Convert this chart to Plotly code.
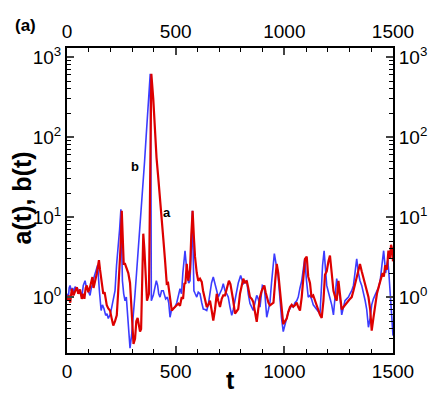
import numpy as np
import plotly.graph_objects as go

# a(t) - red curve, (t, value)
a_points = [
    (0, 0.9), (8, 1.05), (15, 0.85), (22, 1.27), (30, 1.05), (38, 1.2), (45, 1.33), (52, 1.1),
    (60, 1.25), (68, 0.95), (75, 1.1), (80, 0.95), (86, 1.3), (91, 1.4), (98, 1.15), (105, 1.3),
    (111, 1.6), (117, 1.78), (122, 1.3), (128, 1.5), (137, 1.96), (142, 2.4), (147, 2.9), (152, 2.2),
    (157, 1.78), (162, 1.3), (167, 1.1), (173, 1.15), (178, 0.95), (183, 0.79), (190, 0.72), (198, 0.68),
    (205, 0.55), (213, 0.44), (221, 0.5), (229, 0.59), (235, 1.1), (240, 1.96), (246, 4.0), (252, 12.0),
    (256, 6.0), (261, 2.6), (267, 2.6), (274, 2.3), (282, 2.0), (290, 1.5), (295, 0.75), (300, 0.4),
    (306, 0.26), (313, 0.3), (319, 0.5), (325, 0.55), (331, 0.42), (336, 0.37), (341, 0.4), (347, 2.5),
    (351, 6.2), (356, 4.0), (362, 1.5), (368, 0.9), (377, 1.1), (384, 30), (388, 620), (397, 300),
    (405, 110), (412, 55), (420, 31), (428, 18), (436, 10), (444, 5), (451, 2.9), (459, 1.47),
    (465, 1.5), (469, 1.27), (476, 0.9), (482, 0.68), (490, 0.72), (497, 0.75), (505, 0.8), (512, 0.83),
    (520, 0.78), (528, 1.0), (534, 0.95), (540, 1.47), (545, 1.5), (551, 2.6), (558, 1.6), (566, 2.2),
    (572, 6), (578, 12), (584, 5.5), (589, 3.2), (597, 2.0), (604, 1.6), (612, 1.7), (620, 1.55),
    (626, 1.2), (632, 1.0), (637, 0.85), (643, 0.75), (650, 0.8), (658, 0.9), (665, 0.7), (673, 0.51),
    (681, 0.7), (689, 1.1), (696, 0.9), (704, 0.75), (712, 0.95), (719, 1.05), (727, 1.05), (736, 1.3),
    (745, 1.6), (752, 1.45), (758, 1.2), (765, 0.9), (773, 0.62), (780, 0.66), (788, 0.71), (796, 1.1),
    (803, 1.4), (811, 1.7), (819, 1.5), (827, 1.6), (834, 1.3), (842, 1.0), (850, 0.95), (857, 0.87),
    (865, 0.65), (873, 0.49), (880, 0.7), (888, 1.0), (896, 1.2), (902, 1.3), (908, 1.4), (914, 1.15),
    (921, 0.95), (927, 0.85), (934, 0.79), (942, 0.82), (950, 0.85), (958, 1.6), (965, 2.6), (972, 2.0),
    (980, 1.15), (988, 0.7), (995, 0.46), (1003, 0.5), (1011, 0.54), (1018, 0.65), (1026, 0.75), (1034, 0.8),
    (1041, 0.76), (1049, 0.79), (1057, 0.85), (1064, 0.75), (1072, 0.68), (1080, 1.0), (1088, 1.8), (1095, 3.0),
    (1103, 3.2), (1110, 1.8), (1118, 1.5), (1125, 1.0), (1133, 1.05), (1141, 0.9), (1149, 0.75), (1156, 0.7),
    (1164, 0.6), (1172, 0.55), (1180, 0.9), (1187, 1.9), (1195, 2.1), (1203, 2.8), (1210, 3.3), (1218, 2.0),
    (1226, 1.2), (1234, 1.0), (1241, 0.9), (1249, 1.6), (1256, 1.1), (1264, 0.7), (1272, 0.75), (1279, 0.8),
    (1287, 0.85), (1295, 0.9), (1302, 0.95), (1310, 1.0), (1318, 1.2), (1326, 1.5), (1333, 1.8), (1341, 2.2),
    (1348, 2.6), (1356, 2.1), (1364, 1.7), (1372, 1.5), (1379, 1.2), (1387, 1.0), (1395, 0.7), (1402, 0.38),
    (1410, 0.55), (1418, 0.85), (1426, 1.1), (1436, 1.4), (1444, 1.7), (1452, 2.0), (1458, 1.8), (1464, 2.5),
    (1472, 2.2), (1479, 3.8), (1486, 3.0), (1491, 4.5), (1496, 4.0), (1500, 2.8),
]

# b(t) - blue curve
b_points = [
    (0, 1.1), (6, 0.95), (10, 1.3), (14, 1.4), (20, 1.2), (26, 1.3), (32, 1.15), (37, 1.35),
    (42, 1.25), (48, 1.3), (54, 1.1), (60, 1.2), (68, 1.0), (75, 1.4), (83, 1.6), (90, 1.3),
    (97, 1.2), (106, 1.05), (112, 1.3), (118, 1.45), (125, 1.8), (132, 2.15), (141, 2.5), (149, 1.2),
    (157, 0.68), (163, 0.8), (170, 0.72), (178, 0.59), (184, 0.62), (190, 0.54), (198, 0.6), (206, 0.75),
    (214, 0.95), (221, 1.2), (228, 2.5), (236, 4.2), (242, 7), (248, 12.5), (252, 4), (255, 1.6),
    (261, 1.1), (267, 0.9), (273, 1.0), (282, 0.42), (290, 0.23), (298, 0.35), (305, 0.7), (313, 1.1),
    (320, 2.0), (328, 4), (336, 7), (343, 12), (350, 22), (357, 50), (364, 100), (370, 170),
    (377, 330), (383, 617), (386, 50), (388, 0.9), (397, 1.05), (405, 1.3), (411, 1.6), (417, 1.4),
    (422, 1.1), (428, 1.0), (435, 1.2), (443, 1.2), (449, 1.05), (454, 0.95), (462, 1.0), (468, 0.85),
    (474, 0.56), (481, 0.7), (489, 0.72), (497, 0.75), (505, 0.85), (512, 1.0), (520, 1.27), (527, 1.1),
    (533, 2.0), (543, 3.8), (549, 2.5), (554, 1.78), (560, 1.5), (566, 1.6), (572, 4), (577, 12),
    (580, 4), (584, 1.2), (590, 1.1), (597, 1.0), (604, 1.15), (612, 1.1), (620, 0.85), (627, 0.71),
    (635, 0.7), (643, 0.68), (650, 0.8), (658, 1.2), (665, 1.5), (673, 1.78), (681, 1.4), (689, 1.2),
    (696, 1.0), (704, 1.1), (712, 1.25), (719, 1.47), (727, 1.2), (735, 1.1), (742, 1.0), (750, 0.75),
    (758, 0.59), (765, 0.7), (773, 0.9), (780, 1.2), (788, 1.5), (799, 1.86), (805, 1.6), (811, 1.47),
    (819, 1.55), (827, 1.6), (834, 1.1), (842, 0.83), (850, 0.75), (857, 0.68), (865, 0.85), (873, 1.05),
    (880, 0.95), (888, 0.75), (893, 1.0), (899, 1.4), (908, 1.35), (914, 0.9), (919, 0.56), (927, 0.7),
    (934, 0.87), (941, 1.5), (948, 2.5), (954, 3.5), (962, 2.6), (969, 2.15), (975, 1.4), (980, 0.9),
    (987, 0.55), (995, 0.37), (1003, 0.45), (1011, 0.56), (1018, 0.65), (1026, 0.72), (1034, 0.79), (1041, 0.75),
    (1049, 0.85), (1057, 0.9), (1064, 1.0), (1072, 1.3), (1080, 1.6), (1087, 2.2), (1094, 3.0), (1102, 1.6),
    (1110, 1.0), (1118, 1.05), (1125, 0.95), (1133, 0.8), (1141, 0.75), (1149, 0.7), (1157, 0.66), (1164, 0.62),
    (1170, 1.2), (1176, 2.5), (1183, 3.8), (1189, 2.2), (1195, 1.4), (1203, 1.15), (1210, 1.0), (1218, 0.8),
    (1226, 0.6), (1233, 0.9), (1241, 1.7), (1249, 1.2), (1256, 1.0), (1264, 0.6), (1272, 0.75), (1279, 0.9),
    (1287, 0.95), (1295, 1.0), (1302, 1.1), (1310, 1.2), (1318, 1.4), (1326, 2.2), (1333, 3.0), (1341, 2.0),
    (1348, 1.6), (1356, 1.4), (1364, 1.15), (1372, 0.9), (1379, 0.7), (1387, 0.42), (1395, 0.55), (1402, 0.8),
    (1410, 0.95), (1418, 1.1), (1426, 1.2), (1433, 1.3), (1441, 1.6), (1449, 2.5), (1457, 3.8), (1462, 2.7),
    (1466, 2.0), (1471, 2.4), (1476, 2.9), (1481, 2.0), (1487, 1.0), (1493, 0.5), (1500, 0.33),
]

a_t, a_v = zip(*a_points)
b_t, b_v = zip(*b_points)

x_ticks = [0, 500, 1000, 1500]
y_ticks = [1, 10, 100, 1000]
y_ticktext = ["10<sup>0</sup>", "10<sup>1</sup>", "10<sup>2</sup>", "10<sup>3</sup>"]
y_range_log = [np.log10(0.2), np.log10(1300)]

font = "Liberation Sans, Arial, sans-serif"

fig = go.Figure()
fig.add_trace(go.Scatter(x=b_t, y=b_v, mode="lines", line=dict(color="#3c3cff", width=1.6),
                         showlegend=False))
fig.add_trace(go.Scatter(x=a_t, y=a_v, mode="lines", line=dict(color="#dd0000", width=2.2),
                         showlegend=False))
# invisible trace to carry the mirrored top/right axes
fig.add_trace(go.Scatter(x=[0], y=[1], xaxis="x2", yaxis="y2", mode="markers",
                         marker=dict(opacity=0), showlegend=False, hoverinfo="skip"))

xcommon = dict(range=[0, 1500], tickvals=x_ticks, ticks="inside", ticklen=7, tickwidth=2,
               showline=True, linecolor="black", linewidth=2, showgrid=False, zeroline=False,
               automargin=False, tickfont=dict(family=font, size=19, color="black"),
               minor=dict(ticks="inside", ticklen=4, tickwidth=1, dtick=100, tickcolor="black"))
ycommon = dict(type="log", range=y_range_log, tickvals=y_ticks, ticktext=y_ticktext,
               ticks="inside", ticklen=7, tickwidth=2, showline=True, linecolor="black",
               linewidth=2, showgrid=False, zeroline=False, automargin=False,
               tickfont=dict(family=font, size=19, color="black"),
               minor=dict(ticks="inside", ticklen=4, tickwidth=1, dtick="D1", tickcolor="black"))

lbl = dict(xref="paper", yref="paper", showarrow=False, xanchor="center", yanchor="middle")

# the page body adds an 8px offset, so the figure is 8px smaller than the window
fig.update_layout(
    width=439, height=389,
    margin=dict(l=59, r=54, t=40, b=44),
    paper_bgcolor="white", plot_bgcolor="white",
    font=dict(family=font, color="black"),
    xaxis=dict(**xcommon),
    xaxis2=dict(**xcommon, overlaying="x", side="top", anchor="y"),
    yaxis=dict(**ycommon),
    yaxis2=dict(**ycommon, overlaying="y", side="right", anchor="x"),
    annotations=[
        dict(text="<b>(a)</b>", x=-0.126, y=1.075, **lbl,
             font=dict(family=font, size=17, color="black")),
        dict(text="<b>t</b>", x=0.5, y=-0.09, **lbl,
             font=dict(family=font, size=25, color="black")),
        dict(text="<b>a(t), b(t)</b>", x=-0.137, y=0.508, textangle=-90, **lbl,
             font=dict(family=font, size=25, color="black")),
        dict(text="<b>b</b>", x=313, y=1.63, xref="x", yref="y", showarrow=False,
             font=dict(family=font, size=13, color="black")),
        dict(text="<b>a</b>", x=460, y=1.06, xref="x", yref="y", showarrow=False,
             font=dict(family=font, size=13, color="black")),
    ],
)

fig.write_html("out.html")
